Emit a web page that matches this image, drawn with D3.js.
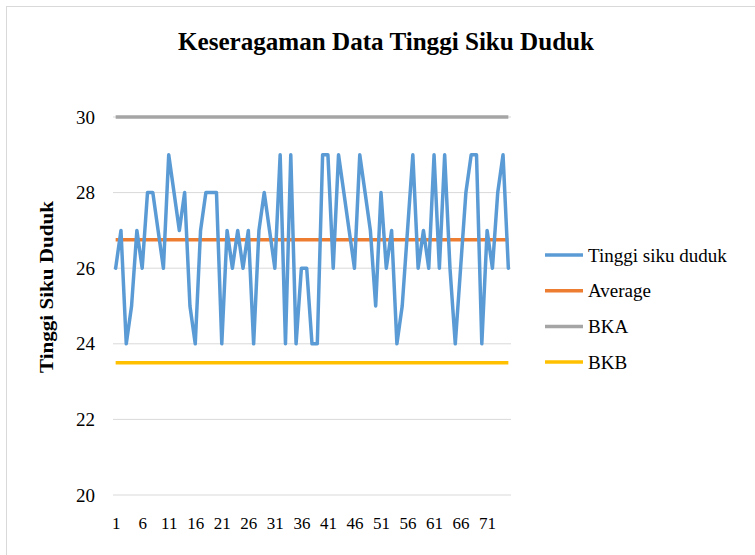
<!DOCTYPE html>
<html>
<head>
<meta charset="utf-8">
<script src="https://cdn.jsdelivr.net/npm/d3@7"></script>
<style>
  body { margin: 0; background: #fff; }
  svg { display: block; font-family: "Liberation Serif", "Times New Roman", serif; }
</style>
</head>
<body>
<div id="chart"></div>
<script>
// tinggi siku duduk, 75 samples
const values = [
  26, 27, 24, 25, 27, 26, 28, 28, 27, 26,
  29, 28, 27, 28, 25, 24, 27, 28, 28, 28,
  24, 27, 26, 27, 26, 27, 24, 27, 28, 27,
  26, 29, 24, 29, 24, 26, 26, 24, 24, 29,
  29, 26, 29, 28, 27, 26, 29, 28, 27, 25,
  28, 26, 27, 24, 25, 27, 29, 26, 27, 26,
  29, 26, 29, 26, 24, 26, 28, 29, 29, 24,
  27, 26, 28, 29, 26
];
const average = 26.75;
const bka = 30;
const bkb = 23.5;
const yTicks = [20, 22, 24, 26, 28, 30];
const seriesNames = ['Tinggi siku duduk', 'Average', 'BKA', 'BKB'];
const seriesColors = ['#5b9bd5', '#ed7d31', '#a5a5a5', '#ffc000'];

const width = 755, height = 555;
const margin = { top: 117, right: 244, bottom: 60, left: 113 };

const svg = d3.select('#chart')
  .append('svg')
  .attr('width', width)
  .attr('height', height);

// chart frame
svg.append('rect')
  .attr('x', 6.5).attr('y', 6.5)
  .attr('width', 800).attr('height', 600)
  .attr('fill', '#fff')
  .attr('stroke', '#d9d9d9');

svg.append('text')
  .attr('x', 386).attr('y', 50)
  .attr('text-anchor', 'middle')
  .attr('font-size', 25)
  .attr('font-weight', 'bold')
  .attr('textLength', 416)
  .attr('lengthAdjust', 'spacingAndGlyphs')
  .text('Keseragaman Data Tinggi Siku Duduk');

const idx = values.map((d, i) => i + 1);

const x = d3.scalePoint()
  .domain(idx)
  .range([margin.left, width - margin.right])
  .padding(0.5);

const y = d3.scaleLinear()
  .domain([20, 30])
  .range([height - margin.bottom, margin.top]);

// gridlines
svg.append('g')
  .selectAll('line')
  .data(yTicks)
  .join('line')
  .attr('x1', margin.left)
  .attr('x2', width - margin.right)
  .attr('y1', d => y(d))
  .attr('y2', d => y(d))
  .attr('stroke', '#d9d9d9')
  .attr('stroke-width', 1);

// y axis labels
const yAxis = svg.append('g')
  .attr('transform', `translate(${margin.left - 18},0)`)
  .call(d3.axisLeft(y).tickValues(yTicks).tickSize(0).tickPadding(0));
yAxis.select('.domain').remove();
yAxis.selectAll('text')
  .attr('font-family', '"Liberation Serif", serif')
  .attr('font-size', 19)
  .attr('fill', '#000');

// x axis labels
const xAxis = svg.append('g')
  .attr('transform', `translate(0,${height - margin.bottom + 22})`)
  .call(d3.axisBottom(x).tickValues(idx.filter(d => (d - 1) % 5 === 0)).tickSize(0).tickPadding(0));
xAxis.select('.domain').remove();
xAxis.selectAll('text')
  .attr('font-family', '"Liberation Serif", serif')
  .attr('font-size', 17)
  .attr('fill', '#000');

// y axis title
svg.append('text')
  .attr('transform', `translate(53,287) rotate(-90)`)
  .attr('text-anchor', 'middle')
  .attr('font-size', 19)
  .attr('font-weight', 'bold')
  .attr('textLength', 172)
  .attr('lengthAdjust', 'spacingAndGlyphs')
  .text('Tinggi Siku Duduk');

// control lines
const flat = [average, bka, bkb];
svg.append('g')
  .selectAll('line')
  .data(flat)
  .join('line')
  .attr('x1', x(1))
  .attr('x2', x(values.length))
  .attr('y1', d => y(d))
  .attr('y2', d => y(d))
  .attr('stroke', (d, i) => seriesColors[i + 1])
  .attr('stroke-width', 3.5);

const line = d3.line()
  .x((d, i) => x(i + 1))
  .y(d => y(d));

svg.append('path')
  .datum(values)
  .attr('d', line)
  .attr('fill', 'none')
  .attr('stroke', seriesColors[0])
  .attr('stroke-width', 3.5)
  .attr('stroke-linejoin', 'round')
  .attr('stroke-linecap', 'round');

// legend
const legend = svg.append('g')
  .selectAll('g')
  .data(seriesNames)
  .join('g')
  .attr('transform', (d, i) => `translate(545,${255 + i * 35.7})`);

legend.append('line')
  .attr('x1', 0).attr('x2', 38)
  .attr('stroke', (d, i) => seriesColors[i])
  .attr('stroke-width', 3.5);

legend.append('text')
  .attr('x', 43)
  .attr('dy', '0.35em')
  .attr('font-size', 19)
  .text(d => d);
</script>
</body>
</html>
